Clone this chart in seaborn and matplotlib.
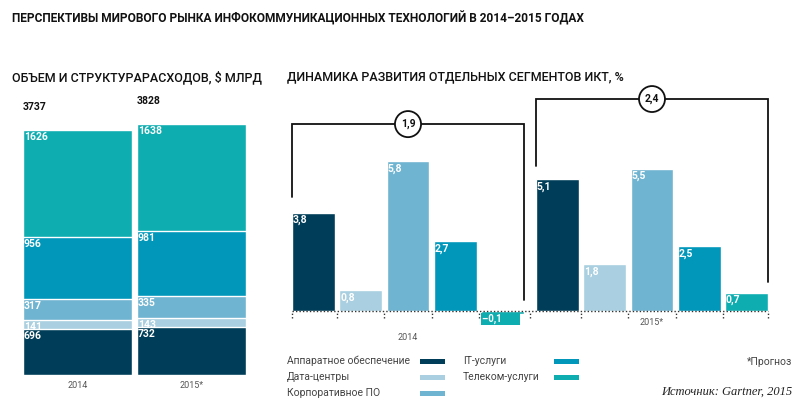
import matplotlib

matplotlib.use("Agg")
import matplotlib.pyplot as plt
from matplotlib.patches import Rectangle
import seaborn as sns
import pandas as pd

# данные
years_left = ["2014", "2015*"]
segments = ["Аппаратное обеспечение", "Дата-центры", "Корпоративное ПО", "IT-услуги", "Телеком-услуги"]
colors = ["#003d58", "#a9cfe0", "#6fb4d0", "#0097bb", "#0eadb0"]
spend_2014 = [696, 141, 317, 956, 1626]
spend_2015 = [732, 143, 335, 981, 1638]
totals = [3737, 3828]

growth_years = ["2014", "2015*"]
growth_2014 = [3.8, 0.8, 5.8, 2.7, -0.1]
growth_2015 = [5.1, 1.8, 5.5, 2.5, 0.7]
market_growth = ["1,9", "2,4"]

sns.set_theme(style="white")
FONT = ["Roboto", "DejaVu Sans"]
plt.rcParams["font.family"] = FONT

W, H = 800, 408
fig = plt.figure(figsize=(W / 100, H / 100), dpi=100)


def rect(x0, y_top, x1, y_bot):
    return [x0 / W, 1 - y_bot / H, (x1 - x0) / W, (y_bot - y_top) / H]


def fmt(v):
    return f"{v:.1f}".replace(".", ",").replace("-", "–")


# заголовки
fig.text(12 / W, 1 - 18 / H, "ПЕРСПЕКТИВЫ МИРОВОГО РЫНКА ИНФОКОММУНИКАЦИОННЫХ ТЕХНОЛОГИЙ В 2014–2015 ГОДАХ",
         fontsize=8.6, fontweight="bold", color="#111", va="center")
fig.text(12 / W, 1 - 77 / H, "ОБЪЕМ И СТРУКТУРАРАСХОДОВ, $ МЛРД", fontsize=9, fontweight="medium",
         color="#111", va="center")
fig.text(287 / W, 1 - 77 / H, "ДИНАМИКА РАЗВИТИЯ ОТДЕЛЬНЫХ СЕГМЕНТОВ ИКТ, %", fontsize=9,
         fontweight="medium", color="#111", va="center")

# левый график: накопленные столбцы
ax1 = fig.add_axes(rect(23, 80, 246, 375))
spend = pd.DataFrame({"year": years_left * len(segments),
                      "segment": [s for s in segments for _ in years_left],
                      "value": [v for pair in zip(spend_2014, spend_2015) for v in pair]})
spend["cum"] = spend.groupby("year")["value"].cumsum()
for seg, col in reversed(list(zip(segments, colors))):
    sub = spend[spend["segment"] == seg]
    sns.barplot(data=sub, x="year", y="cum", order=years_left, color=col, width=0.956,
                edgecolor="white", linewidth=1, saturation=1, ax=ax1)
    for i, row in enumerate(sub.itertuples()):
        ax1.annotate(str(row.value), (i - 0.478, row.cum), xytext=(0.5, -1.5), textcoords="offset points",
                     color="white", fontsize=7.5, fontweight="bold", va="top", ha="left")
for i, t in enumerate(totals):
    ax1.annotate(str(t), (i - 0.478, spend[spend["year"] == years_left[i]]["cum"].max()),
                 xytext=(0, 13), textcoords="offset points", fontsize=7.5, fontweight="bold",
                 color="#111", va="bottom", ha="left")
ax1.set_xlim(-0.478, 1.478)
ax1.set_ylim(0, 4500)
ax1.set_xlabel("")
ax1.set_ylabel("")
ax1.set_yticks([])
ax1.tick_params(axis="x", length=0, labelsize=6.5, labelcolor="#555", pad=4)
sns.despine(ax=ax1, left=True, bottom=True)

# правый график: темпы роста
ax2 = fig.add_axes(rect(280, 85, 780, 345))
growth = pd.DataFrame({"year": [y for y in growth_years for _ in segments],
                       "segment": segments * 2,
                       "value": growth_2014 + growth_2015})
sns.barplot(data=growth, x="year", y="value", hue="segment", hue_order=segments,
            palette=dict(zip(segments, colors)), order=growth_years, width=0.967, gap=0.089,
            saturation=1, legend=False, ax=ax2)
ax2.set_xlim(-0.5246, 1.5246)
ax2.set_ylim(-1.315, 8.743)
ax2.axis("off")

bars = sorted([p for c in ax2.containers for p in c], key=lambda p: p.get_x())
for p in bars:
    h = p.get_height()
    col = p.get_facecolor()
    if h >= 0:
        ax2.annotate(fmt(h), (p.get_x(), h), xytext=(0.5, -1.5), textcoords="offset points",
                     color="white", fontsize=7.5, fontweight="bold", va="top", ha="left")
    else:
        ax2.annotate(fmt(h) + "       ", (p.get_x(), 0), xytext=(1, -2), textcoords="offset points",
                     color="white", fontsize=7, fontweight="bold", va="top", ha="left",
                     bbox=dict(boxstyle="square,pad=0.12", fc=col, ec="none"))

# пунктирная базовая линия и засечки
edges = [bars[0].get_x()]
for a, b in zip(bars[:-1], bars[1:]):
    edges.append((a.get_x() + a.get_width() + b.get_x()) / 2)
edges.append(bars[-1].get_x() + bars[-1].get_width())
ax2.hlines(0, edges[0], edges[-1], color="#333", lw=1, ls=(0, (1, 1.5)))
ax2.vlines(edges, -0.28, 0, color="#333", lw=1, ls=(0, (1, 1.5)))

# скобки общего роста
bracket = [(4.4, 7.23, 0.43), (5.6, 8.2, 1.12)]
for g, (yl, yt, yr) in enumerate(bracket):
    grp = bars[g * 5:(g + 1) * 5]
    x0 = grp[0].get_x()
    x1 = grp[-1].get_x() + grp[-1].get_width()
    ax2.plot([x0, x0, x1, x1], [yl, yt, yt, yr], color="#111", lw=1.3, solid_joinstyle="miter")
    ax2.text((x0 + x1) / 2, yt, market_growth[g], ha="center", va="center", fontsize=7.5,
             fontweight="bold", color="#111",
             bbox=dict(boxstyle="circle,pad=0.55", fc="white", ec="#111", lw=1.3))

ax2.text(0, -1.04, growth_years[0], ha="center", va="center", fontsize=6.5, color="#555")
ax2.text(1, -0.46, growth_years[1], ha="center", va="center", fontsize=6.5, color="#555")

# легенда
legend_pos = [(287, 420, 361), (287, 420, 377), (287, 420, 393), (463, 554, 361), (463, 554, 377)]
for seg, col, (tx, sx, ty) in zip(segments, colors, legend_pos):
    fig.text(tx / W, 1 - ty / H, seg, fontsize=7.5, color="#444", va="center", ha="left")
    fig.patches.append(Rectangle((sx / W, 1 - (ty + 2.5) / H), 25 / W, 5 / H,
                                 transform=fig.transFigure, fc=col, ec="none"))

fig.text(792 / W, 1 - 362 / H, "*Прогноз", fontsize=7.5, color="#444", va="center", ha="right")
fig.text(792 / W, 1 - 392 / H, "Источник: Gartner, 2015", fontsize=9, color="#222", va="center",
         ha="right", style="italic", family=["Liberation Serif", "DejaVu Serif"])

fig.savefig("out.png", dpi=100)
plt.close(fig)
